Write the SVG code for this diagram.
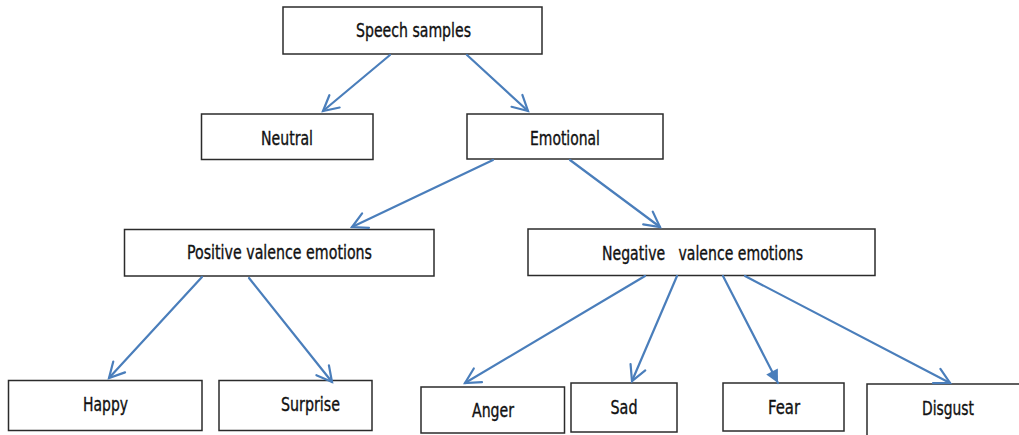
<svg xmlns="http://www.w3.org/2000/svg" width="1019" height="435" viewBox="0 0 1019 435">
<style>
.box{fill:#fff;stroke:#2b2b2b;stroke-width:1.5}
.t{font-family:"Liberation Sans Narrow","Arial Narrow","DejaVu Sans Condensed","Liberation Sans",sans-serif;font-size:19.5px;fill:#111;stroke:#111;stroke-width:0.35;text-anchor:middle}
.c{fill:none;stroke:#4a7ebb;stroke-width:2.2;stroke-linecap:round}
</style>
<defs>
<marker id="open" viewBox="-20 -12 24 24" refX="0" refY="0" markerWidth="24" markerHeight="24" markerUnits="userSpaceOnUse" orient="auto">
<path d="M-15,-8 L0,0 L-15,8" fill="none" stroke="#4a7ebb" stroke-width="2.2" stroke-linecap="round" stroke-linejoin="miter"/>
</marker>
<marker id="solid" viewBox="-16 -10 20 20" refX="0" refY="0" markerWidth="20" markerHeight="20" markerUnits="userSpaceOnUse" orient="auto">
<path d="M-13,-6.5 L0,0 L-13,6.5 Z" fill="#4a7ebb"/>
</marker>
</defs>
<g id="n-speech"><rect class="box" x="283" y="7" width="259" height="47"/><text class="t" x="413.5" y="37" textLength="115" lengthAdjust="spacingAndGlyphs">Speech samples</text></g>
<g id="n-neutral"><rect class="box" x="201.5" y="114" width="171.5" height="45.5"/><text class="t" x="287" y="145" textLength="52" lengthAdjust="spacingAndGlyphs">Neutral</text></g>
<g id="n-emotional"><rect class="box" x="467" y="114" width="196" height="45"/><text class="t" x="565" y="145" textLength="70" lengthAdjust="spacingAndGlyphs">Emotional</text></g>
<g id="n-positive"><rect class="box" x="124.5" y="229.5" width="309.5" height="46.5"/><text class="t" x="279.5" y="259" textLength="185" lengthAdjust="spacingAndGlyphs">Positive valence emotions</text></g>
<g id="n-negative"><rect class="box" x="528" y="229" width="347" height="46.5"/><text class="t" x="702.5" y="260" textLength="201" lengthAdjust="spacingAndGlyphs" xml:space="preserve">Negative   valence emotions</text></g>
<g id="n-happy"><rect class="box" x="8.5" y="380.5" width="193.5" height="50"/><text class="t" x="105.5" y="411" textLength="45" lengthAdjust="spacingAndGlyphs">Happy</text></g>
<g id="n-surprise"><rect class="box" x="219" y="380.5" width="153" height="50"/><text class="t" x="310.5" y="411" textLength="59" lengthAdjust="spacingAndGlyphs">Surprise</text></g>
<g id="n-anger"><rect class="box" x="421" y="387" width="143.5" height="46"/><text class="t" x="493" y="417" textLength="42" lengthAdjust="spacingAndGlyphs">Anger</text></g>
<g id="n-sad"><rect class="box" x="571" y="383" width="106" height="49"/><text class="t" x="624" y="414" textLength="27" lengthAdjust="spacingAndGlyphs">Sad</text></g>
<g id="n-fear"><rect class="box" x="723" y="383" width="121" height="48"/><text class="t" x="784" y="414" textLength="32" lengthAdjust="spacingAndGlyphs">Fear</text></g>
<g id="n-disgust"><rect class="box" x="867" y="384" width="160" height="60"/><text class="t" x="948" y="415" textLength="52" lengthAdjust="spacingAndGlyphs">Disgust</text></g>
<g id="connectors">
<line class="c" x1="390" y1="55" x2="323" y2="111" marker-end="url(#open)"/>
<line class="c" x1="467" y1="55" x2="528" y2="111" marker-end="url(#open)"/>
<line class="c" x1="493" y1="160" x2="352" y2="227" marker-end="url(#open)"/>
<line class="c" x1="570" y1="160" x2="660" y2="227" marker-end="url(#open)"/>
<line class="c" x1="202" y1="277" x2="109" y2="378" marker-end="url(#open)"/>
<line class="c" x1="249" y1="278" x2="332" y2="382" marker-end="url(#open)"/>
<line class="c" x1="645" y1="276" x2="465" y2="383" marker-end="url(#open)"/>
<line class="c" x1="677" y1="276" x2="632" y2="381" marker-end="url(#open)"/>
<line class="c" x1="723" y1="276" x2="778" y2="383" marker-end="url(#solid)"/>
<line class="c" x1="745" y1="276" x2="950" y2="383" marker-end="url(#open)"/>
</g>
</svg>
